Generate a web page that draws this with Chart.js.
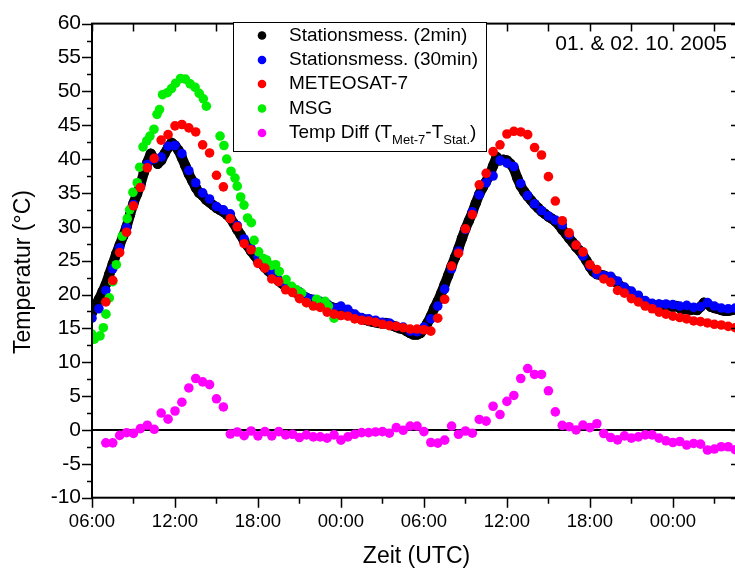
<!DOCTYPE html>
<html><head><meta charset="utf-8">
<script src="https://cdn.jsdelivr.net/npm/chart.js@4/dist/chart.umd.min.js"></script>
<style>
html,body{margin:0;padding:0;background:#fff;overflow:hidden;}
#wrap{position:relative;width:745px;height:571px;}
</style></head><body>
<div id="wrap"><canvas id="c" width="745" height="571"></canvas></div>
<script>
const FONT = '"Liberation Sans", Arial, Helvetica, sans-serif';

// ---- data (hours since 00:00 of 01.10.2005) ----
const seriesLabels = ['Stationsmess. (2min)', 'Stationsmess. (30min)', 'METEOSAT-7', 'MSG', 'Temp Diff (TMet-7-TStat.)'];
const seriesColors = ['#000000', '#0000ff', '#ff0000', '#00ee00', '#ff00ff'];
const dateLabel = '01. & 02. 10. 2005';
const xTitle = 'Zeit (UTC)';
const yTitle = 'Temperatur (°C)';

// Station, 2-min record (read every 15 min), starting 06:00
const station2Start = 6, station2Step = 0.25;
const station2Temp = [
17.3,18.3,19.3,20.4,21.5,23.0,24.5,26.0,27.3,28.6,30.0,31.8,33.5,34.8,36.2,38.0,
39.5,40.8,40.0,39.3,39.8,40.8,41.7,42.4,42.0,41.3,40.2,39.0,37.8,36.8,35.8,35.0,
34.6,34.0,33.6,33.2,32.8,32.5,32.2,31.8,31.3,30.5,29.6,28.8,27.9,27.2,26.4,25.8,
25.1,24.6,24.0,23.5,23.0,22.6,22.0,21.6,21.2,20.9,20.6,20.3,20.1,19.8,19.5,19.3,
19.1,19.0,18.8,18.6,18.4,18.2,18.0,18.0,17.9,17.7,17.4,17.1,16.8,16.6,16.4,16.3,
16.1,16.0,15.9,15.8,15.7,15.8,15.6,15.4,15.2,15.0,14.9,14.6,14.3,14.1,14.1,14.3,
14.9,15.8,16.8,18.0,19.0,20.2,21.5,22.8,24.2,25.5,26.8,28.3,29.7,30.9,32.1,33.5,
34.8,35.8,36.7,37.6,39.0,40.3,39.8,39.9,39.8,39.3,38.6,37.2,36.0,35.2,34.5,33.9,
33.3,32.8,32.3,31.9,31.5,31.2,30.8,30.3,29.6,29.0,28.3,27.7,27.0,26.5,25.8,25.0,
24.1,23.4,23.0,22.9,22.8,22.6,22.5,22.0,21.6,21.2,20.8,20.5,20.2,19.8,19.4,19.0,
18.8,18.6,18.5,18.4,18.5,18.3,18.4,18.3,18.2,18.3,18.0,17.8,17.9,17.7,17.8,17.7,
18.2,18.8,18.6,18.2,18.0,17.9,17.7,17.6,17.6,17.7,17.8,17.8
];

// Station, 30-min record, starting 06:00
const station30Start = 6, station30Step = 0.5;
const station30Temp = [
16.5,17.9,20.6,23.8,26.9,29.9,33.3,35.9,39.2,40.0,40.3,41.9,42.0,40.8,38.3,36.5,
35.0,34.1,33.0,32.5,31.9,30.2,28.2,26.8,25.6,24.1,23.2,22.1,21.4,20.9,20.4,19.6,
19.3,19.0,18.6,18.0,18.3,17.8,17.1,16.6,16.4,16.2,15.9,15.8,15.3,15.2,14.6,14.5,
15.2,16.4,18.3,20.8,23.8,26.4,29.6,32.2,34.7,36.5,37.5,39.8,39.4,38.9,36.4,34.6,
33.4,32.4,31.6,31.0,30.3,28.8,27.3,25.7,24.2,23.0,22.8,22.7,22.0,21.1,20.5,19.9,
19.1,18.7,18.6,18.6,18.5,18.3,18.4,18.1,18.2,18.8,18.3,18.0,17.9,18.0
];

// METEOSAT-7, every 30 min, starting 07:00
const met7Start = 7, met7Step = 0.5;
const met7Temp = [
18.9,22.1,26.2,29.2,33.1,35.8,38.7,40.1,42.8,43.6,44.9,45.1,44.6,44.0,42.1,40.9,
37.6,35.9,31.2,30.0,27.5,26.6,24.6,23.9,22.3,21.9,20.7,20.3,19.4,18.8,18.3,18.1,
17.4,17.1,16.9,16.8,16.4,16.2,16.1,15.9,15.6,15.4,15.3,15.1,14.9,14.9,14.8,14.6,
16.5,19.3,24.2,26.1,29.7,31.8,36.2,37.9,41.1,42.1,43.7,44.1,44.0,43.6,41.7,40.6,
37.4,33.8,30.9,29.1,27.3,26.3,24.4,23.7,22.3,21.8,20.6,20.2,19.4,18.9,18.3,17.9,
17.4,17.1,16.8,16.6,16.4,16.1,16.0,15.8,15.6,15.5,15.3,15.1
];

// MSG, irregular times (hours) and temperatures
const msgHours = [
5.98,6.17,6.58,6.82,7.01,7.25,7.5,7.76,8.19,8.55,8.72,8.96,9.27,9.45,9.69,9.96,
10.19,10.48,10.7,10.88,11.1,11.45,11.75,12.05,12.4,12.75,13.1,13.45,13.75,14.05,14.27,
15.26,15.54,15.74,16.05,16.34,16.5,16.75,16.99,17.25,17.52,17.72,18.05,18.4,18.62,18.97,
19.28,19.54,20.03,20.44,20.8,21.16,21.52,22.25,22.85,23.09,23.5
];
const msgTemp = [
14.2,13.4,13.9,15.1,17.1,19.5,21.9,24.4,28.6,31.2,32.5,35.1,36.5,38.8,41.8,42.7,
43.4,44.4,46.6,47.3,49.5,49.8,50.4,51.2,51.9,51.8,51.1,50.6,49.7,48.9,47.8,
43.4,42.0,40.0,38.2,37.2,36.0,34.4,33.2,31.3,30.6,28.0,26.3,25.3,25.1,24.3,
24.4,23.4,22.2,21.2,20.7,20.2,18.8,19.3,19.0,18.3,16.5
];

// Temperature difference Met-7 minus station, every 30 min, starting 07:00
const diffStart = 7, diffStep = 0.5;
const diffTemp = [
-1.9,-1.9,-0.8,-0.4,-0.5,0.2,0.7,0.1,2.5,1.6,2.8,4.1,6.2,7.6,7.1,6.7,
4.6,3.4,-0.6,-0.3,-0.85,-0.15,-0.87,-0.24,-0.87,-0.24,-0.73,-0.63,-1.12,-0.73,-1.02,-1.02,
-1.21,-0.73,-1.5,-1.02,-0.63,-0.39,-0.39,-0.29,-0.24,-0.48,0.34,-0.05,0.58,0.58,-0.24,-1.85,
-1.94,-1.5,0.58,-0.63,-0.15,-0.48,1.55,1.31,3.5,2.28,4.22,5.1,7.6,9.07,8.2,8.2,
5.78,2.67,0.68,0.48,0.0,0.73,0.34,0.92,-0.53,-1.12,-1.46,-0.87,-1.21,-1.02,-0.73,-0.73,
-1.21,-1.6,-1.85,-1.7,-2.23,-1.99,-2.09,-2.96,-2.82,-2.48,-2.48,-2.91
];

// axes
const xMin = 6, xMax = 52.78, xMajorStep = 6, xMinorStep = 3;
const yMin = -10, yMax = 60, yMajorStep = 5, yMinorStep = 2.5;

// ---- helpers ----
function regularPoints(start, step, vals) {
  return vals.map((v, i) => ({ x: start + i * step, y: v }));
}
function pairedPoints(xs, ys) {
  return ys.map((v, i) => ({ x: xs[i], y: v }));
}
function fmtHour(v) {
  const h = ((Math.round(v) % 24) + 24) % 24;
  return (h < 10 ? '0' : '') + h + ':00';
}

const decoPlugin = {
  id: 'deco',
  beforeDatasetsDraw(chart) {
    const { ctx, chartArea: a, scales: { y } } = chart;
    const y0 = y.getPixelForValue(0);
    ctx.save();
    ctx.strokeStyle = '#000'; ctx.lineWidth = 2;
    ctx.beginPath(); ctx.moveTo(a.left, y0); ctx.lineTo(a.right, y0); ctx.stroke();
    ctx.restore();
  },
  afterDatasetsDraw(chart) {
    const { ctx, chartArea: a, scales: { x, y } } = chart;
    ctx.save();
    ctx.strokeStyle = '#000';
    ctx.lineWidth = 2;
    ctx.strokeRect(a.left, a.top, a.right - a.left, a.bottom - a.top);
    ctx.lineWidth = 1.5;
    ctx.beginPath();
    // left & right ticks
    for (let v = yMin; v <= yMax + 1e-9; v += yMinorStep) {
      const p = Math.round(y.getPixelForValue(v)) + 0.5;
      const major = Math.abs(v / yMajorStep - Math.round(v / yMajorStep)) < 1e-6;
      const len = major ? 10 : 5;
      ctx.moveTo(a.left - len, p); ctx.lineTo(a.left, p);
      if (major) { ctx.moveTo(a.right, p); ctx.lineTo(a.right - 8, p); }
    }
    // bottom & top ticks
    for (let v = xMin; v <= xMax + 1e-9; v += xMinorStep) {
      const p = Math.round(x.getPixelForValue(v)) + 0.5;
      const major = Math.abs((v - xMin) / xMajorStep - Math.round((v - xMin) / xMajorStep)) < 1e-6;
      const len = major ? 10 : 6;
      ctx.moveTo(p, a.bottom); ctx.lineTo(p, a.bottom + len);
      ctx.moveTo(p, a.top); ctx.lineTo(p, a.top + 8);
    }
    ctx.stroke();

    // axis titles
    ctx.fillStyle = '#000';
    ctx.font = '23px ' + FONT;
    ctx.textAlign = 'center'; ctx.textBaseline = 'middle';
    ctx.fillText(xTitle, (a.left + a.right) / 2 + 1, 557);
    ctx.save();
    ctx.translate(24, 272);
    ctx.rotate(-Math.PI / 2);
    ctx.fillText(yTitle, 0, 0);
    ctx.restore();

    // date label
    ctx.font = '21px ' + FONT;
    ctx.textAlign = 'right'; ctx.textBaseline = 'alphabetic';
    ctx.fillText(dateLabel, 727, 50);

    // legend
    const bx = 233, by = 22, bw = 253, bh = 129;
    ctx.fillStyle = '#fff';
    ctx.fillRect(bx, by, bw, bh);
    ctx.lineWidth = 1;
    ctx.strokeStyle = '#000';
    ctx.strokeRect(bx + 0.5, by + 0.5, bw, bh);
    const rowY = [35.5, 60, 84, 108.5, 133];
    chart.data.datasets.forEach((ds, i) => {
      const cy = rowY[i];
      ctx.fillStyle = ds.backgroundColor;
      ctx.beginPath(); ctx.arc(262, cy, 4.3, 0, Math.PI * 2); ctx.fill();
      ctx.fillStyle = '#000';
      ctx.textAlign = 'left'; ctx.textBaseline = 'middle';
      ctx.font = '19px ' + FONT;
      if (i < 4) {
        ctx.fillText(ds.label, 289, cy);
      } else {
        const parts = [['Temp Diff (T', 0], ['Met-7', 1], ['-T', 0], ['Stat.', 1], [')', 0]];
        let tx = 289;
        parts.forEach(([t, sub]) => {
          ctx.font = (sub ? '13px ' : '19px ') + FONT;
          ctx.fillText(t, tx, cy + (sub ? 7 : 0));
          tx += ctx.measureText(t).width;
        });
      }
    });
    ctx.restore();
  }
};

const ctx = document.getElementById('c').getContext('2d');
new Chart(ctx, {
  type: 'scatter',
  data: {
    datasets: [
      { label: seriesLabels[0], data: regularPoints(station2Start, station2Step, station2Temp),
        backgroundColor: seriesColors[0], borderColor: seriesColors[0], showLine: true, borderWidth: 10,
        borderCapStyle: 'round', borderJoinStyle: 'round', pointRadius: 5.2, pointBorderWidth: 0, order: 5 },
      { label: seriesLabels[1], data: regularPoints(station30Start, station30Step, station30Temp),
        backgroundColor: seriesColors[1], borderColor: seriesColors[1], pointRadius: 4.8, pointBorderWidth: 0, order: 4 },
      { label: seriesLabels[2], data: regularPoints(met7Start, met7Step, met7Temp),
        backgroundColor: seriesColors[2], borderColor: seriesColors[2], pointRadius: 4.8, pointBorderWidth: 0, order: 2 },
      { label: seriesLabels[3], data: pairedPoints(msgHours, msgTemp),
        backgroundColor: seriesColors[3], borderColor: seriesColors[3], pointRadius: 4.8, pointBorderWidth: 0, order: 3 },
      { label: seriesLabels[4], data: regularPoints(diffStart, diffStep, diffTemp),
        backgroundColor: seriesColors[4], borderColor: seriesColors[4], pointRadius: 4.8, pointBorderWidth: 0, order: 1 }
    ]
  },
  options: {
    responsive: false,
    animation: false,
    devicePixelRatio: 1,
    layout: { padding: { left: 0, right: 6, top: 17, bottom: 0 } },
    plugins: { legend: { display: false }, tooltip: { enabled: false } },
    scales: {
      x: {
        type: 'linear', min: xMin, max: xMax,
        afterFit(s) { s.height = 73.3; },
        grid: { display: false, drawTicks: false },
        border: { display: false },
        ticks: { stepSize: xMajorStep, includeBounds: false, autoSkip: false, maxRotation: 0,
          padding: 13, color: '#000', font: { family: FONT, size: 18.5 }, callback: v => fmtHour(v) }
      },
      y: {
        type: 'linear', min: yMin, max: yMax,
        afterFit(s) { s.width = 92; },
        grid: { display: false, drawTicks: false },
        border: { display: false },
        ticks: { stepSize: yMajorStep, padding: 11, color: '#000', font: { family: FONT, size: 21 } }
      }
    }
  },
  plugins: [decoPlugin]
});
</script>
</body></html>
